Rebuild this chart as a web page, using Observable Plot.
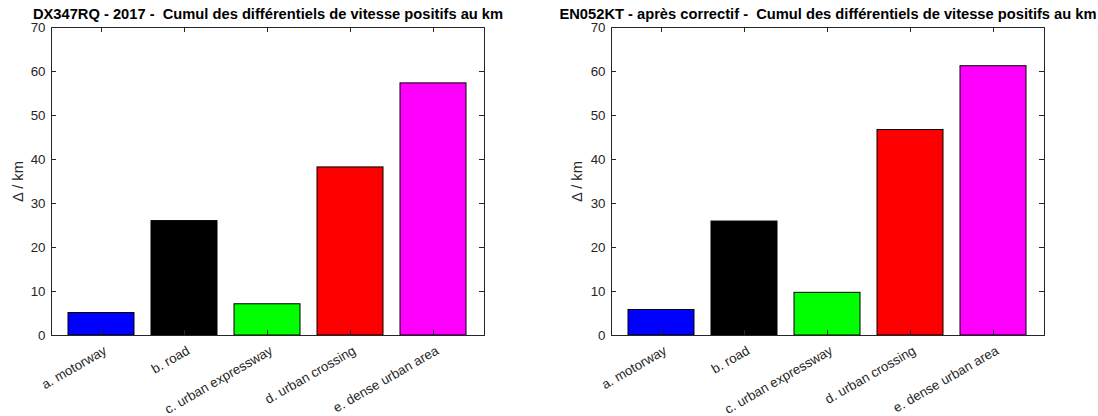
<!DOCTYPE html>
<html>
<head>
<meta charset="utf-8">
<script src="https://cdn.jsdelivr.net/npm/d3@7"></script>
<script src="https://cdn.jsdelivr.net/npm/@observablehq/plot@0.6"></script>
<style>
  html, body { margin: 0; padding: 0; background: #fff; }
  #wrap { display: flex; width: 1098px; height: 416px; }
  svg text { white-space: pre; }
</style>
</head>
<body>
<div id="wrap"></div>
<script>
const categories = ["a. motorway", "b. road", "c. urban expressway", "d. urban crossing", "e. dense urban area"];
const colors = ["#0000ff", "#000000", "#00ff00", "#ff0000", "#ff00ff"];
const valuesLeft = [5.1, 26.0, 7.1, 38.2, 57.3];
const valuesRight = [5.8, 25.9, 9.7, 46.7, 61.2];
const titleLeft = "DX347RQ - 2017 -  Cumul des différentiels de vitesse positifs au km";
const titleRight = "EN052KT - après correctif -  Cumul des différentiels de vitesse positifs au km";
const yTicks = [0, 10, 20, 30, 40, 50, 60, 70];
const yLabel = "Δ / km";

const INK = "#262626";
const FONT = "'Liberation Sans', Arial, Helvetica, sans-serif";

function panel(values, title, mLeft, mRight, labelDx) {
  const W = 549, H = 416, mTop = 27, mBottom = 81;
  const pw = W - mLeft - mRight, ph = H - mTop - mBottom;
  const data = categories.map((c, i) => ({cat: c, v: values[i], col: colors[i]}));
  return Plot.plot({
    width: W, height: H,
    marginLeft: mLeft, marginRight: mRight, marginTop: mTop, marginBottom: mBottom,
    style: {fontFamily: FONT, color: INK, background: "#fff", overflow: "visible"},
    x: {domain: categories, padding: 0.2, label: null},
    y: {domain: [0, 70], label: null},
    marks: [
      Plot.barY(data, {x: "cat", y: "v", fill: "col", stroke: "#000", strokeWidth: 1}),
      Plot.frame({stroke: INK, strokeWidth: 1}),
      Plot.tickY(yTicks, {y: d => d, stroke: INK, insetRight: pw - 5}),
      Plot.tickY(yTicks, {y: d => d, stroke: INK, insetLeft: pw - 5}),
      Plot.tickX(categories, {x: d => d, stroke: INK, insetBottom: ph - 5}),
      Plot.tickX(categories, {x: d => d, stroke: INK, insetTop: ph - 5}),
      Plot.axisY({ticks: yTicks, tickSize: 0, tickPadding: 6, fontSize: 13.3, label: null, fill: INK}),
      Plot.axisX({tickSize: 0, tickPadding: 14, dx: 4, tickRotate: -30, fontSize: 13.3, label: null, fill: INK}),
      Plot.text([yLabel], {frameAnchor: "left", text: d => d, rotate: -90, dx: labelDx, fontSize: 14.7, fill: INK, textAnchor: "middle"}),
      Plot.text([title], {frameAnchor: "top", lineAnchor: "top", text: d => d, dy: -19, fontSize: 14.7, fontWeight: "bold", fill: "#000", textAnchor: "middle"})
    ]
  });
}

const wrap = document.getElementById("wrap");
wrap.appendChild(panel(valuesLeft, titleLeft, 51, 65, -33.5));
wrap.appendChild(panel(valuesRight, titleRight, 62, 54, -34));
</script>
</body>
</html>
